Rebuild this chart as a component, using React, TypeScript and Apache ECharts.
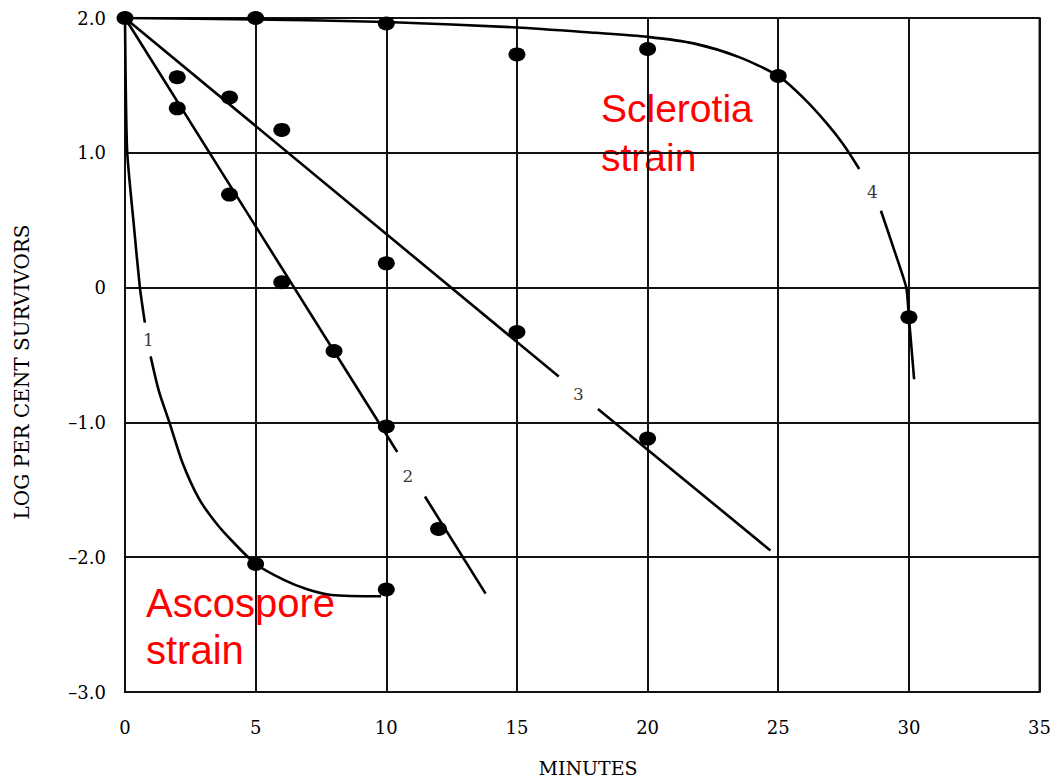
import React, { useEffect, useRef } from "react";
import * as echarts from "echarts";

// ---- data ----
const xTicks = [0, 5, 10, 15, 20, 25, 30, 35];
const yTickLabels: Record<string, string> = {
  "2": "2.0",
  "1": "1.0",
  "0": "0",
  "-1": "\u20131.0",
  "-2": "\u20132.0",
  "-3": "\u20133.0",
};

// observed points
const pts1 = [[0, 2.0], [5, -2.05], [10, -2.24]];
const pts2 = [[2, 1.33], [4, 0.69], [6, 0.04], [8, -0.47], [10, -1.03], [12, -1.79]];
const pts3 = [[2, 1.56], [4, 1.41], [6, 1.17], [10, 0.18], [15, -0.33], [20, -1.12]];
const pts4 = [[5, 2.0], [10, 1.96], [15, 1.73], [20, 1.77], [25, 1.57], [30, -0.22]];

// fitted curves (broken where the curve number is written)
const curve1a = [[0, 2.0], [0.08, 1.02], [0.33, 0.48], [0.57, 0.0], [0.76, -0.26]];
const curve1b = [[0.98, -0.51], [1.3, -0.77], [1.7, -1.0], [2.2, -1.3], [2.84, -1.57], [3.5, -1.75], [4.1, -1.88], [5.0, -2.05], [6.1, -2.17], [7.0, -2.24], [7.9, -2.28], [9.8, -2.29]];
const curve2a = [[0, 2.0], [10.42, -1.22]];
const curve2b = [[11.48, -1.55], [13.8, -2.27]];
const curve3a = [[0, 2.0], [16.6, -0.66]];
const curve3b = [[18.1, -0.9], [24.7, -1.95]];
const curve4a = [[0, 2.0], [5, 1.99], [10, 1.97], [15, 1.93], [18, 1.89], [20, 1.86], [21.8, 1.81], [23.5, 1.71], [25, 1.57], [26, 1.4], [26.85, 1.22], [27.5, 1.06], [28.1, 0.88]];
const curve4b = [[28.93, 0.57], [29.4, 0.3], [29.9, 0.0], [30.0, -0.22], [30.2, -0.68]];

const curveLabels = [
  { name: "1", value: [0.9, -0.39] },
  { name: "2", value: [10.83, -1.4] },
  { name: "3", value: [17.35, -0.79] },
  { name: "4", value: [28.6, 0.71] },
];

const SERIF = "'DejaVu Serif', 'Liberation Serif', serif";
const SANS = "'Liberation Sans', Arial, sans-serif";

function lineSeries(data: number[][], smooth: boolean | number) {
  return {
    type: "line",
    data,
    smooth,
    symbol: "none",
    lineStyle: { color: "#000", width: 2.6 },
    z: 3,
  };
}

function dotSeries(data: number[][]) {
  return {
    type: "scatter",
    data,
    symbol: "circle",
    symbolSize: [17, 14],
    itemStyle: { color: "#000", opacity: 1 },
    z: 4,
  };
}

export default function App() {
  const ref = useRef<HTMLDivElement>(null);
  useEffect(() => {
    if (!ref.current) return;
    const chart = echarts.init(ref.current, undefined, { renderer: "svg" });
    chart.setOption({
      animation: false,
      backgroundColor: "#fff",
      grid: { left: 125, right: 6, top: 18, bottom: 88, show: true, borderColor: "#111", borderWidth: 2 },
      xAxis: {
        type: "value",
        min: 0,
        max: 35,
        interval: 5,
        axisLine: { show: true, lineStyle: { color: "#111", width: 2 } },
        axisTick: { show: false },
        splitLine: { show: true, lineStyle: { color: "#111", width: 2 } },
        axisLabel: {
          margin: 26,
          fontFamily: SERIF,
          fontSize: 18,
          color: "#000",
          formatter: (v: number) => (xTicks.includes(v) ? String(v) : ""),
        },
      },
      yAxis: {
        type: "value",
        min: -3,
        max: 2,
        interval: 1,
        axisLine: { show: true, lineStyle: { color: "#111", width: 2 } },
        axisTick: { show: false },
        splitLine: { show: true, lineStyle: { color: "#111", width: 2 } },
        axisLabel: {
          margin: 19,
          fontFamily: SERIF,
          fontSize: 18,
          color: "#000",
          formatter: (v: number) => yTickLabels[String(v)] ?? "",
        },
      },
      series: [
        lineSeries(curve1a, 0.2),
        lineSeries(curve1b, 0.25),
        lineSeries(curve2a, false),
        lineSeries(curve2b, false),
        lineSeries(curve3a, false),
        lineSeries(curve3b, false),
        lineSeries(curve4a, 0.25),
        lineSeries(curve4b, 0.2),
        dotSeries(pts1),
        dotSeries(pts2),
        dotSeries(pts3),
        dotSeries(pts4),
        {
          type: "scatter",
          data: curveLabels,
          symbolSize: 0,
          z: 5,
          label: {
            show: true,
            position: "inside",
            formatter: "{b}",
            fontFamily: SERIF,
            fontSize: 17,
            color: "#000",
          },
        },
      ],
      graphic: [
        {
          type: "text",
          x: 22,
          y: 372,
          rotation: Math.PI / 2,
          style: {
            text: "LOG PER CENT SURVIVORS",
            fontFamily: SERIF,
            fontSize: 20,
            fill: "#000",
            align: "center",
            verticalAlign: "middle",
          },
        },
        {
          type: "text",
          x: 588,
          y: 768,
          style: {
            text: "MINUTES",
            fontFamily: SERIF,
            fontSize: 19,
            fill: "#000",
            align: "center",
            verticalAlign: "middle",
          },
        },
        {
          type: "text",
          x: 601,
          y: 108,
          style: { text: "Sclerotia", fontFamily: SANS, fontSize: 39, fill: "#ff0000", verticalAlign: "middle" },
        },
        {
          type: "text",
          x: 601,
          y: 157,
          style: { text: "strain", fontFamily: SANS, fontSize: 39, fill: "#ff0000", verticalAlign: "middle" },
        },
        {
          type: "text",
          x: 146,
          y: 603,
          style: { text: "Ascospore", fontFamily: SANS, fontSize: 40, fill: "#ff0000", verticalAlign: "middle" },
        },
        {
          type: "text",
          x: 146,
          y: 650,
          style: { text: "strain", fontFamily: SANS, fontSize: 40, fill: "#ff0000", verticalAlign: "middle" },
        },
      ],
    });
    return () => chart.dispose();
  }, []);
  return (
    <div
      ref={ref}
      style={{ position: "fixed", left: 0, top: 0, width: 1054, height: 780, background: "#fff" }}
    />
  );
}
